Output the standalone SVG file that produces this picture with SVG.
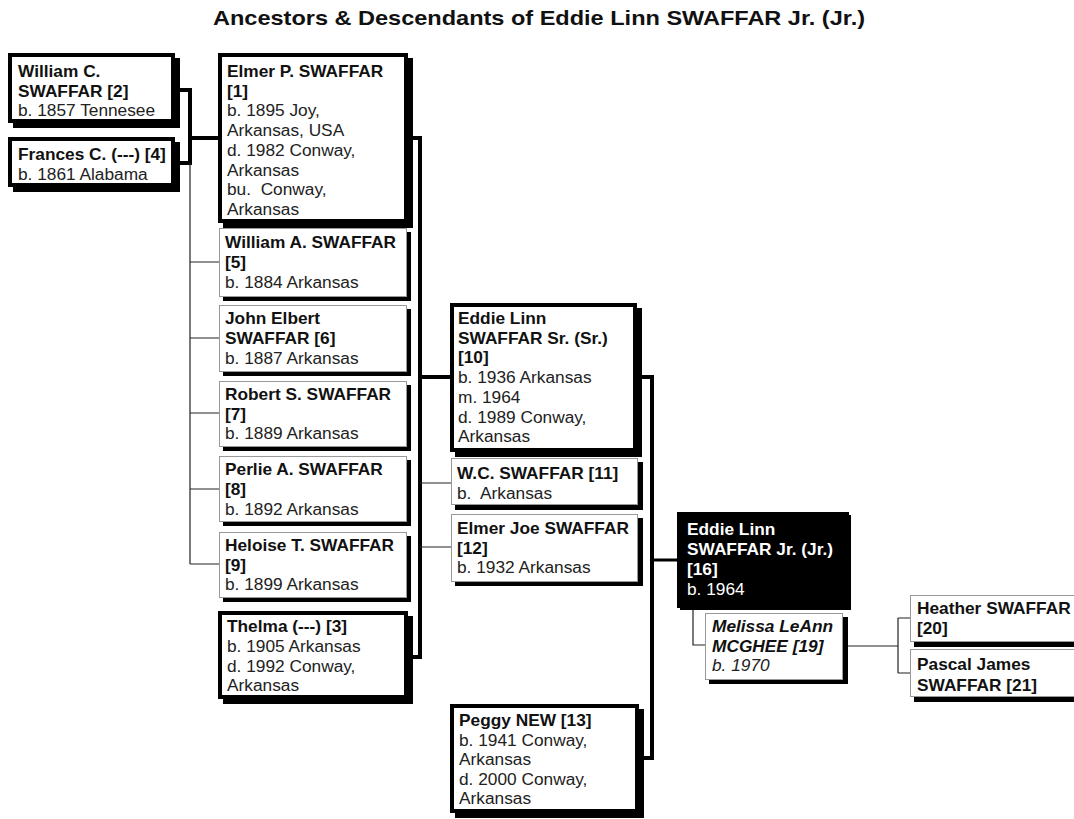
<svg xmlns="http://www.w3.org/2000/svg" width="1074" height="819" viewBox="0 0 1074 819">
<style>
text{font-family:"Liberation Sans",Arial,sans-serif;font-size:17.3px;fill:#222}
.b{font-weight:bold;fill:#111}
.i{font-style:italic}
.w{fill:#fff}
.title{font-size:21px;font-weight:bold;fill:#111}
.sh{fill:#000}
.thick{fill:#fff;stroke:#000;stroke-width:4}
.thin{fill:#fff;stroke:#999;stroke-width:1}
.cT{stroke:#000;stroke-width:4;fill:none}
.cM{stroke:#000;stroke-width:3;fill:none}
.ct{stroke:#222;stroke-width:1.2;fill:none}
</style>
<rect width="1074" height="819" fill="#fff"/>
<text class="title" x="213" y="25" textLength="652" lengthAdjust="spacingAndGlyphs">Ancestors &amp; Descendants of Eddie Linn SWAFFAR Jr. (Jr.)</text>

<g id="connectors">
<!-- parents of Elmer P -->
<path class="cT" d="M175 90H190V163H175M190 138H218"/>
<path class="ct" d="M190 163V564M190 262H219M190 338H219M190 413H219M190 489H219M190 564H219"/>
<!-- Elmer P + Thelma -->
<path class="cT" d="M408 138H420V657H408M420 377H450"/>
<path class="ct" d="M420 483H451M420 547H451"/>
<!-- Eddie Sr + Peggy -->
<path class="cT" d="M637 377H652V758H639"/>
<path class="cM" d="M652 560H677"/>
<!-- Eddie Jr + Melissa -->
<path class="ct" d="M693 608V645H705"/>
<path class="ct" d="M842 646H898M898 618V673M898 618H910M898 673H910"/>
</g>

<g id="n2">
<rect class="sh" x="13" y="58" width="167" height="70"/>
<rect class="thick" x="10" y="55" width="163" height="66"/>
<text class="b" x="18" y="77">William C.</text>
<text class="b" x="18" y="96.5">SWAFFAR [2]</text>
<text x="18" y="116">b. 1857 Tennesee</text>
</g>
<g id="n4">
<rect class="sh" x="13" y="142" width="167" height="50"/>
<rect class="thick" x="10" y="139" width="163" height="46"/>
<text class="b" x="18" y="160">Frances C. (---) [4]</text>
<text x="18" y="179.5">b. 1861 Alabama</text>
</g>
<g id="n1">
<rect class="sh" x="223" y="58" width="190" height="170"/>
<rect class="thick" x="220" y="55" width="186" height="166"/>
<text class="b" x="227" y="77">Elmer P. SWAFFAR</text>
<text class="b" x="227" y="96.7">[1]</text>
<text x="227" y="116.4">b. 1895 Joy,</text>
<text x="227" y="136.1">Arkansas, USA</text>
<text x="227" y="155.8">d. 1982 Conway,</text>
<text x="227" y="175.5">Arkansas</text>
<text x="227" y="195.2">bu.&#160; Conway,</text>
<text x="227" y="214.9">Arkansas</text>
</g>
<g id="n5">
<rect class="sh" x="223" y="232" width="188" height="69"/>
<rect class="thin" x="219.5" y="228.5" width="187" height="68"/>
<text class="b" x="225" y="248">William A. SWAFFAR</text>
<text class="b" x="225" y="268">[5]</text>
<text x="225" y="287.5">b. 1884 Arkansas</text>
</g>
<g id="n6">
<rect class="sh" x="223" y="309" width="188" height="67"/>
<rect class="thin" x="219.5" y="305.5" width="187" height="66"/>
<text class="b" x="225" y="324">John Elbert</text>
<text class="b" x="225" y="344">SWAFFAR [6]</text>
<text x="225" y="363.5">b. 1887 Arkansas</text>
</g>
<g id="n7">
<rect class="sh" x="223" y="385" width="188" height="66"/>
<rect class="thin" x="219.5" y="381.5" width="187" height="65"/>
<text class="b" x="225" y="400">Robert S. SWAFFAR</text>
<text class="b" x="225" y="420">[7]</text>
<text x="225" y="439">b. 1889 Arkansas</text>
</g>
<g id="n8">
<rect class="sh" x="223" y="460" width="188" height="66"/>
<rect class="thin" x="219.5" y="456.5" width="187" height="65"/>
<text class="b" x="225" y="475">Perlie A. SWAFFAR</text>
<text class="b" x="225" y="495">[8]</text>
<text x="225" y="514.5">b. 1892 Arkansas</text>
</g>
<g id="n9">
<rect class="sh" x="223" y="536" width="188" height="66"/>
<rect class="thin" x="219.5" y="532.5" width="187" height="65"/>
<text class="b" x="225" y="551">Heloise T. SWAFFAR</text>
<text class="b" x="225" y="571">[9]</text>
<text x="225" y="590">b. 1899 Arkansas</text>
</g>
<g id="n3">
<rect class="sh" x="223" y="616" width="190" height="88"/>
<rect class="thick" x="220" y="613" width="186" height="84"/>
<text class="b" x="227" y="632">Thelma (---) [3]</text>
<text x="227" y="652">b. 1905 Arkansas</text>
<text x="227" y="671.5">d. 1992 Conway,</text>
<text x="227" y="691">Arkansas</text>
</g>
<g id="n10">
<rect class="sh" x="455" y="308" width="187" height="149"/>
<rect class="thick" x="452" y="305" width="183" height="145"/>
<text class="b" x="458" y="324">Eddie Linn</text>
<text class="b" x="458" y="343.7">SWAFFAR Sr. (Sr.)</text>
<text class="b" x="458" y="363.4">[10]</text>
<text x="458" y="383.1">b. 1936 Arkansas</text>
<text x="458" y="402.8">m. 1964</text>
<text x="458" y="422.5">d. 1989 Conway,</text>
<text x="458" y="442.2">Arkansas</text>
</g>
<g id="n11">
<rect class="sh" x="455" y="462" width="188" height="48"/>
<rect class="thin" x="451.5" y="458.5" width="186" height="46"/>
<text class="b" x="457" y="479">W.C. SWAFFAR [11]</text>
<text x="457" y="498.5">b.&#160; Arkansas</text>
</g>
<g id="n12">
<rect class="sh" x="455" y="518" width="188" height="68"/>
<rect class="thin" x="451.5" y="514.5" width="186" height="67"/>
<text class="b" x="457" y="534">Elmer Joe SWAFFAR</text>
<text class="b" x="457" y="554">[12]</text>
<text x="457" y="573">b. 1932 Arkansas</text>
</g>
<g id="n13">
<rect class="sh" x="455" y="709" width="189" height="109"/>
<rect class="thick" x="452" y="706" width="185" height="105"/>
<text class="b" x="459" y="726">Peggy NEW [13]</text>
<text x="459" y="745.5">b. 1941 Conway,</text>
<text x="459" y="765">Arkansas</text>
<text x="459" y="784.5">d. 2000 Conway,</text>
<text x="459" y="804">Arkansas</text>
</g>
<g id="n16">
<rect class="sh" x="680" y="515" width="171" height="95"/>
<rect fill="#000" x="677" y="512" width="172" height="96"/>
<text class="b w" x="687" y="535">Eddie Linn</text>
<text class="b w" x="687" y="555">SWAFFAR Jr. (Jr.)</text>
<text class="b w" x="687" y="575">[16]</text>
<text class="w" x="687" y="594.5">b. 1964</text>
</g>
<g id="n19">
<rect class="sh" x="709" y="617" width="139" height="67"/>
<rect class="thin" x="705.5" y="613.5" width="137" height="66"/>
<text class="b i" x="712" y="632">Melissa LeAnn</text>
<text class="b i" x="712" y="652">MCGHEE [19]</text>
<text class="i" x="712" y="671">b. 1970</text>
</g>
<g id="n20">
<rect class="sh" x="914" y="599" width="180" height="48"/>
<rect class="thin" x="910.5" y="595.5" width="180" height="46"/>
<text class="b" x="917" y="613.5">Heather SWAFFAR</text>
<text class="b" x="917" y="634">[20]</text>
</g>
<g id="n21">
<rect class="sh" x="914" y="653" width="180" height="49"/>
<rect class="thin" x="910.5" y="649.5" width="180" height="47"/>
<text class="b" x="917" y="670">Pascal James</text>
<text class="b" x="917" y="691">SWAFFAR [21]</text>
</g>
</svg>
